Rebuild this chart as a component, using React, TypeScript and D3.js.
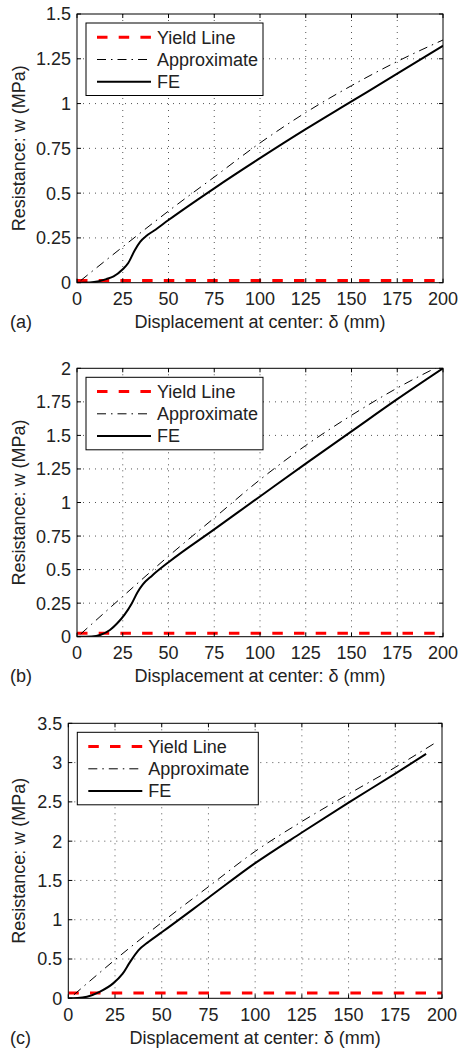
import * as d3 from "d3";

const xTicks = [0, 25, 50, 75, 100, 125, 150, 175, 200];
const yTicksA = [0, 0.25, 0.5, 0.75, 1, 1.25, 1.5];
const yTicksB = [0, 0.25, 0.5, 0.75, 1, 1.25, 1.5, 1.75, 2];
const yTicksC = [0, 0.5, 1, 1.5, 2, 2.5, 3, 3.5];

const seriesNames = ["Yield Line", "Approximate", "FE"];

// yield line resistance (MPa), drawn across the displacement range
const yieldA = 0.012;
const yieldB = 0.025;
const yieldC = 0.068;
const yieldSpan = [0, 200];

// [displacement (mm), resistance (MPa)]
const approxA: [number, number][] = [
  [2, 0.012], [25, 0.2], [50, 0.4], [75, 0.59], [100, 0.78],
  [125, 0.95], [150, 1.1], [175, 1.235], [200, 1.355],
];
const approxB: [number, number][] = [
  [2, 0.02], [25, 0.3], [50, 0.6], [75, 0.885], [100, 1.17],
  [125, 1.425], [150, 1.65], [175, 1.853], [200, 2.03],
];
const approxC: [number, number][] = [
  [3, 0.045], [25, 0.49], [50, 0.965], [75, 1.42], [100, 1.87],
  [125, 2.25], [150, 2.6], [175, 2.94], [197, 3.26],
];

const feA: [number, number][] = [
  [0, 0], [7, 0.001], [12, 0.008], [16, 0.02], [20, 0.035], [25, 0.075],
  [28, 0.11], [31.5, 0.18], [34.5, 0.228], [38, 0.262], [42, 0.29], [50, 0.35],
  [75, 0.527], [100, 0.695], [125, 0.857], [150, 1.012], [175, 1.167], [200, 1.323],
];
const feB: [number, number][] = [
  [0, 0], [8, 0.002], [13, 0.015], [18, 0.05], [22, 0.1], [26, 0.165],
  [30, 0.25], [33, 0.33], [36, 0.39], [41, 0.455], [50, 0.555], [75, 0.8],
  [100, 1.045], [125, 1.29], [150, 1.53], [175, 1.77], [200, 2.0],
];
const feC: [number, number][] = [
  [0, 0], [5, 0.003], [10, 0.02], [17, 0.085], [24, 0.19], [29, 0.31],
  [33, 0.46], [37.5, 0.61], [43, 0.72], [50, 0.84], [75, 1.28], [100, 1.72],
  [125, 2.11], [150, 2.49], [175, 2.86], [191.5, 3.11],
];

const panels = [
  { id: "a", left: 77, right: 443, top: 14, bottom: 282.7, yTicks: yTicksA, yieldLevel: yieldA, approx: approxA, fe: feA, legendW: 177 },
  { id: "b", left: 77, right: 443, top: 368.3, bottom: 636.7, yTicks: yTicksB, yieldLevel: yieldB, approx: approxB, fe: feB, legendW: 177 },
  { id: "c", left: 68.3, right: 442, top: 723.3, bottom: 998.3, yTicks: yTicksC, yieldLevel: yieldC, approx: approxC, fe: feC, legendW: 181 },
];

const font = "'Liberation Sans', Arial, Helvetica, sans-serif";
const textColor = "#222";
const fs = 18;
const yieldDash = "10.5,11.2";
const approxDash = "9,5,1.5,5";

type PanelCfg = (typeof panels)[number];

function Panel({ p }: { p: PanelCfg }) {
  const x = d3.scaleLinear().domain([0, 200]).range([p.left, p.right]);
  const yMax = p.yTicks[p.yTicks.length - 1];
  const y = d3.scaleLinear().domain([0, yMax]).range([p.bottom, p.top]);
  const line = d3
    .line<[number, number]>()
    .x((d) => x(d[0]))
    .y((d) => y(d[1]))
    .curve(d3.curveMonotoneX);
  const clipId = `clip-${p.id}`;
  const tick = 4;
  const lx = p.left + 9;
  const ly = p.top + 9;
  const rows = [ly + 14.3, ly + 36.5, ly + 58.7];
  const sx0 = lx + 11;
  const sx1 = lx + 65;
  const midY = (p.top + p.bottom) / 2;

  return (
    <g>
      <defs>
        <clipPath id={clipId}>
          <rect x={p.left} y={p.top} width={p.right - p.left} height={p.bottom - p.top} />
        </clipPath>
      </defs>
      <rect x={p.left} y={p.top} width={p.right - p.left} height={p.bottom - p.top} fill="#fff" />
      {/* grid */}
      {xTicks.slice(1, -1).map((t) => (
        <line key={`gx${t}`} x1={x(t)} x2={x(t)} y1={p.top} y2={p.bottom} stroke="#555" strokeWidth={1} strokeDasharray="1,5" />
      ))}
      {p.yTicks.slice(1, -1).map((t) => (
        <line key={`gy${t}`} x1={p.left} x2={p.right} y1={y(t)} y2={y(t)} stroke="#555" strokeWidth={1} strokeDasharray="1,5" />
      ))}
      {/* data */}
      <g clipPath={`url(#${clipId})`}>
        <line
          x1={x(yieldSpan[0])}
          x2={x(yieldSpan[1])}
          y1={y(p.yieldLevel)}
          y2={y(p.yieldLevel)}
          stroke="#ff0000"
          strokeWidth={3}
          strokeDasharray={yieldDash}
        />
        <path d={line(p.approx) || ""} fill="none" stroke="#000" strokeWidth={1} strokeDasharray={approxDash} />
        <path d={line(p.fe) || ""} fill="none" stroke="#000" strokeWidth={2} />
      </g>
      {/* ticks */}
      {xTicks.map((t) => (
        <g key={`tx${t}`}>
          <line x1={x(t)} x2={x(t)} y1={p.bottom} y2={p.bottom - tick} stroke="#000" />
          <line x1={x(t)} x2={x(t)} y1={p.top} y2={p.top + tick} stroke="#000" />
          <text x={x(t)} y={p.bottom + 22.3} textAnchor="middle" fontFamily={font} fontSize={fs} fill={textColor}>
            {t}
          </text>
        </g>
      ))}
      {p.yTicks.map((t) => (
        <g key={`ty${t}`}>
          <line x1={p.left} x2={p.left + tick} y1={y(t)} y2={y(t)} stroke="#000" />
          <line x1={p.right} x2={p.right - tick} y1={y(t)} y2={y(t)} stroke="#000" />
          <text x={p.left - 6} y={y(t)} dy="0.36em" textAnchor="end" fontFamily={font} fontSize={fs} fill={textColor}>
            {String(t)}
          </text>
        </g>
      ))}
      <rect x={p.left} y={p.top} width={p.right - p.left} height={p.bottom - p.top} fill="none" stroke="#000" strokeWidth={1} />
      {/* legend */}
      <rect x={lx} y={ly} width={p.legendW} height={72.5} fill="#fff" stroke="#000" strokeWidth={1} />
      <line x1={sx0} x2={sx1} y1={rows[0]} y2={rows[0]} stroke="#ff0000" strokeWidth={3} strokeDasharray={yieldDash} />
      <line x1={sx0} x2={sx1} y1={rows[1]} y2={rows[1]} stroke="#000" strokeWidth={1} strokeDasharray={approxDash} />
      <line x1={sx0} x2={sx1} y1={rows[2]} y2={rows[2]} stroke="#000" strokeWidth={2} />
      {seriesNames.map((n, i) => (
        <text key={n} x={lx + 71} y={rows[i]} dy="0.36em" fontFamily={font} fontSize={fs} fill={textColor}>
          {n}
        </text>
      ))}
      {/* titles */}
      <text x={(p.left + p.right) / 2} y={p.bottom + 45.5} textAnchor="middle" fontFamily={font} fontSize={fs} fill={textColor}>
        Displacement at center: δ (mm)
      </text>
      <text x={10} y={p.bottom + 45.5} fontFamily={font} fontSize={fs} fill={textColor}>
        ({p.id})
      </text>
      <text
        transform={`translate(25,${midY}) rotate(-90)`}
        textAnchor="middle"
        fontFamily={font}
        fontSize={fs}
        fill={textColor}
      >
        Resistance: w (MPa)
      </text>
    </g>
  );
}

export default function App() {
  return (
    <svg
      width={460}
      height={1049}
      style={{ position: "absolute", left: 0, top: 0, background: "#fff" }}
    >
      <rect width={460} height={1049} fill="#fff" />
      {panels.map((p) => (
        <Panel key={p.id} p={p} />
      ))}
    </svg>
  );
}
